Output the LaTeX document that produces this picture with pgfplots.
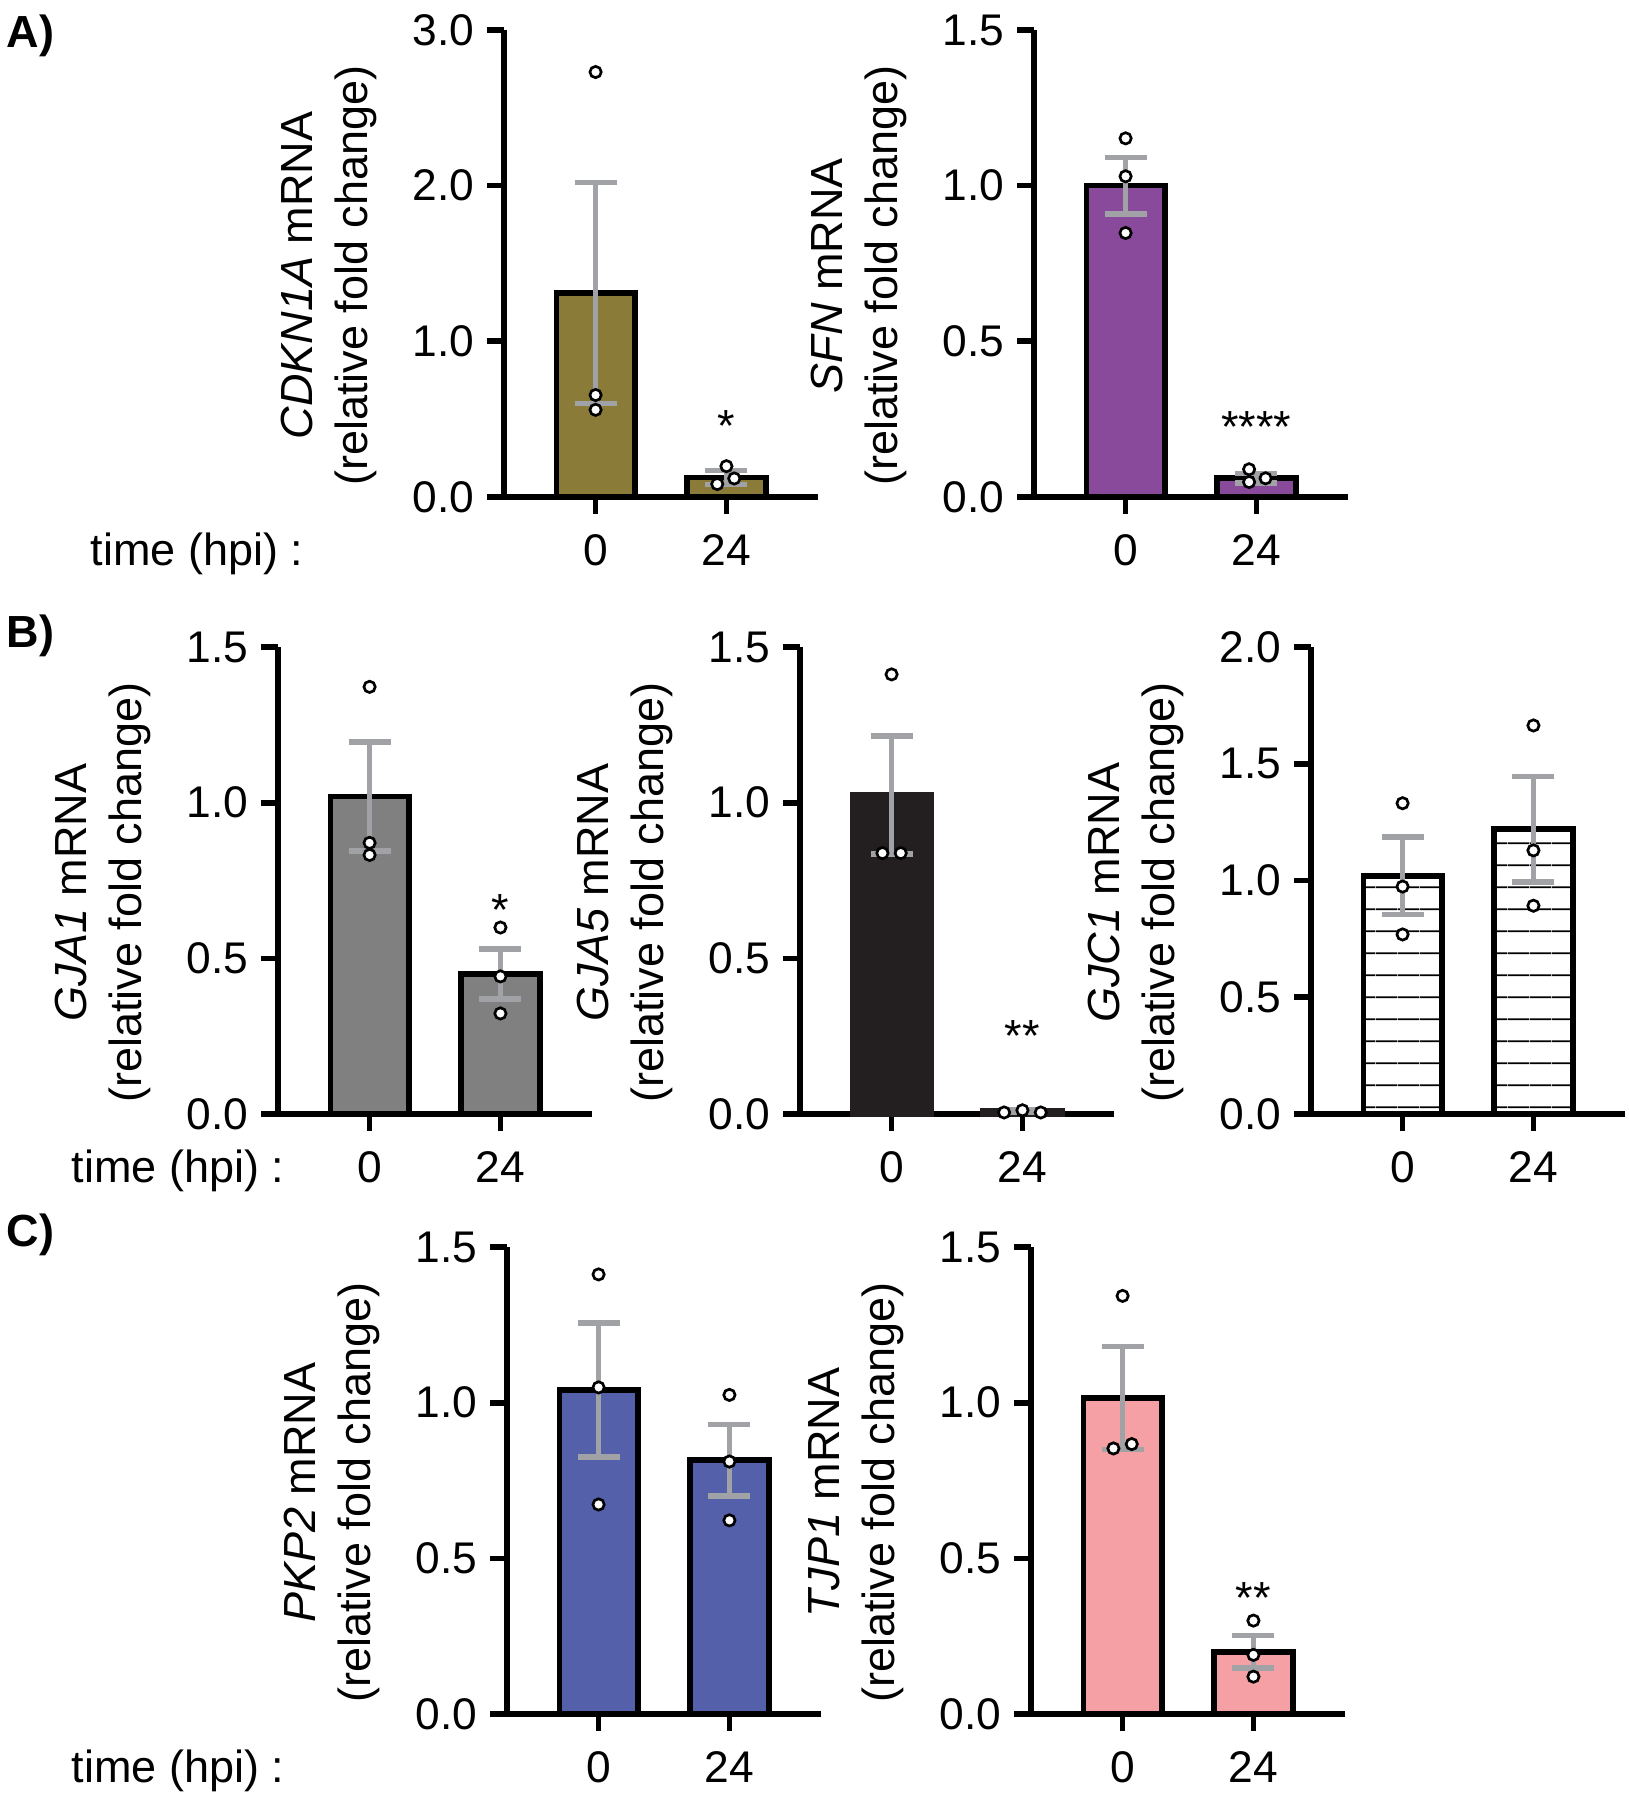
\documentclass[border=0pt]{standalone}
\usepackage{fontspec}
\setmainfont{Liberation Sans}
\usepackage{pgfplots}
\pgfplotsset{compat=1.18}
\usetikzlibrary{patterns.meta}

\definecolor{olivebar}{HTML}{8B7B38}
\definecolor{purplebar}{HTML}{8A4A9B}
\definecolor{graybar}{HTML}{808080}
\definecolor{blackbar}{HTML}{231F20}
\definecolor{bluebar}{HTML}{5560AB}
\definecolor{pinkbar}{HTML}{F4A0A4}
\definecolor{errgray}{HTML}{A0A2A6}

\pgfplotsset{
  panel/.style={
    scale only axis, width=94.2pt, height=140.1pt, anchor=south west,
    xmin=-0.7, xmax=1.7, ymin=0,
    xtick={0,1}, xticklabels={0,24},
    axis x line*=bottom, axis y line*=left,
    axis line style={line width=1.7pt, black},
    tick align=outside, major tick length=5pt,
    tick style={line width=1.7pt, black},
    minor tick num=0, clip=false,
    every tick label/.append style={font=\fontsize{13.3}{15}\selectfont},
    yticklabel style={/pgf/number format/fixed, /pgf/number format/fixed zerofill,
      /pgf/number format/precision=1, /pgf/number format/assume math mode=true,
      anchor=east, inner sep=0pt, xshift=-3.7pt},
    xticklabel style={anchor=north, inner sep=0pt, yshift=-6.1pt},
  },
  bars/.style={ybar, bar width=0.6, draw=black, line width=1.7pt},
  errs/.style={draw=none, mark=none, forget plot, line width=1.7pt,
    error bars/.cd, y dir=both, y explicit,
    error bar style={draw=errgray, line width=1.7pt},
    error mark options={rotate=90, draw=errgray, line width=1.7pt, mark size=6.3pt}},
  pts/.style={only marks, mark=*, mark size=1.7pt,
    mark options={fill=white, draw=black, line width=0.8pt}},
}
\tikzset{
  ylab/.style={rotate=90, anchor=center, align=center, font=\fontsize{13.5}{16.5}\selectfont},
  star/.style={anchor=base, yshift=-5.8pt, font=\fontsize{13.5}{15}\selectfont},
  plab/.style={anchor=west, inner sep=0pt, font=\fontsize{13.5}{15}\selectfont\bfseries},
  tlab/.style={anchor=base west, inner sep=0pt, font=\fontsize{13.5}{15}\selectfont},
}

\begin{document}
\begin{tikzpicture}
\path[use as bounding box] (0,0) rectangle (488.7pt,-540pt);

\node[plab] at (1.8pt,-10.8pt) {A)};
\node[plab] at (1.8pt,-190.8pt) {B)};
\node[plab] at (1.8pt,-370.5pt) {C)};
\node[tlab] at (27pt,-169.5pt) {time (hpi) :};
\node[tlab] at (21.3pt,-354.6pt) {time (hpi) :};
\node[tlab] at (21.3pt,-534.6pt) {time (hpi) :};

% A) CDKN1A
\begin{axis}[panel, at={(151.2pt,-149.1pt)}, ymax=3, ytick={0,1,2,3}]
\addplot[bars, fill=olivebar] coordinates {(0,1.31) (1,0.125)};
\addplot[errs] coordinates {(0,1.31) +- (0,0.71) (1,0.125) +- (0,0.045)};
\addplot[pts] coordinates {(0,2.73) (0,0.655) (0,0.56) (1,0.198) (1.06,0.119) (0.93,0.083)};
\node[star] at (axis cs:1,0.48) {*};
\node[ylab] at ([xshift=-52.5pt]rel axis cs:0,0.474) {\textit{CDKN1A} mRNA\\(relative fold change)};
\end{axis}

% A) SFN
\begin{axis}[panel, at={(310.2pt,-149.1pt)}, ymax=1.5, ytick={0,0.5,1,1.5}]
\addplot[bars, fill=purplebar] coordinates {(0,1.0) (1,0.06)};
\addplot[errs] coordinates {(0,1.0) +- (0,0.09) (1,0.06) +- (0,0.015)};
\addplot[pts] coordinates {(0,1.152) (0,1.03) (0,0.848) (0.944,0.089) (1.07,0.06) (0.944,0.048)};
\node[star] at (axis cs:1,0.237) {****};
\node[ylab] at ([xshift=-52.5pt]rel axis cs:0,0.474) {\textit{SFN} mRNA\\(relative fold change)};
\end{axis}

% B) GJA1
\begin{axis}[panel, at={(83.4pt,-334.2pt)}, ymax=1.5, ytick={0,0.5,1,1.5}]
\addplot[bars, fill=graybar] coordinates {(0,1.02) (1,0.45)};
\addplot[errs] coordinates {(0,1.02) +- (0,0.175) (1,0.45) +- (0,0.08)};
\addplot[pts] coordinates {(0,1.372) (0,0.871) (0,0.832) (1,0.599) (1,0.442) (1,0.323)};
\node[star] at (axis cs:1,0.669) {*};
\node[ylab] at ([xshift=-52.5pt]rel axis cs:0,0.474) {\textit{GJA1} mRNA\\(relative fold change)};
\end{axis}

% B) GJA5
\begin{axis}[panel, at={(240pt,-334.2pt)}, ymax=1.5, ytick={0,0.5,1,1.5}]
\addplot[bars, fill=blackbar, draw=blackbar] coordinates {(0,1.025) (1,0.01)};
\addplot[errs] coordinates {(0,1.025) +- (0,0.19) (1,0.01) +- (0,0.004)};
\addplot[pts] coordinates {(0,1.412) (-0.07,0.838) (0.07,0.838) (0.86,0.005) (1,0.012) (1.14,0.005)};
\node[star] at (axis cs:1,0.262) {**};
\node[ylab] at ([xshift=-52.5pt]rel axis cs:0,0.474) {\textit{GJA5} mRNA\\(relative fold change)};
\end{axis}

% B) GJC1
\begin{axis}[panel, at={(393.3pt,-334.2pt)}, ymax=2, ytick={0,0.5,1,1.5,2}]
\addplot[bars, fill=white, pattern={Lines[angle=0,distance=6.5pt,line width=0.5pt]}, pattern color=black] coordinates {(0,1.02) (1,1.22)};
\addplot[errs] coordinates {(0,1.02) +- (0,0.165) (1,1.22) +- (0,0.225)};
\addplot[pts] coordinates {(0,1.331) (0,0.974) (0,0.769) (1,1.664) (1,1.129) (1,0.892)};
\node[ylab] at ([xshift=-52.5pt]rel axis cs:0,0.474) {\textit{GJC1} mRNA\\(relative fold change)};
\end{axis}

% C) PKP2
\begin{axis}[panel, at={(152.1pt,-514.2pt)}, ymax=1.5, ytick={0,0.5,1,1.5}]
\addplot[bars, fill=bluebar] coordinates {(0,1.04) (1,0.815)};
\addplot[errs] coordinates {(0,1.04) +- (0,0.215) (1,0.815) +- (0,0.115)};
\addplot[pts] coordinates {(0,1.412) (0,1.049) (0,0.673) (1,1.025) (1,0.811) (1,0.622)};
\node[ylab] at ([xshift=-52.5pt]rel axis cs:0,0.474) {\textit{PKP2} mRNA\\(relative fold change)};
\end{axis}

% C) TJP1
\begin{axis}[panel, at={(309.3pt,-514.2pt)}, ymax=1.5, ytick={0,0.5,1,1.5}]
\addplot[bars, fill=pinkbar] coordinates {(0,1.015) (1,0.2)};
\addplot[errs] coordinates {(0,1.015) +- (0,0.165) (1,0.2) +- (0,0.052)};
\addplot[pts] coordinates {(0,1.343) (-0.07,0.853) (0.07,0.867) (1,0.30) (1,0.19) (1,0.12)};
\node[star] at (axis cs:1,0.386) {**};
\node[ylab] at ([xshift=-52.5pt]rel axis cs:0,0.474) {\textit{TJP1} mRNA\\(relative fold change)};
\end{axis}
\end{tikzpicture}
\end{document}
